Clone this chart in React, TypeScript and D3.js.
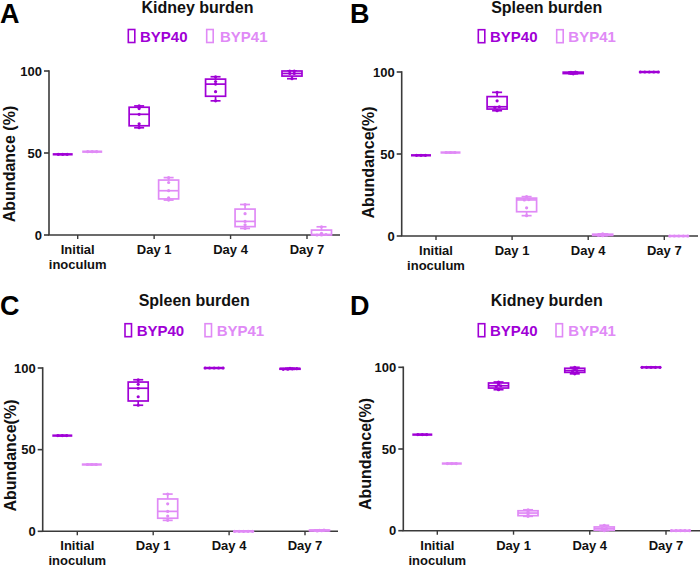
import React from "react";
import * as d3 from "d3";

// ---------- data ----------
const categories = ["Initial inoculum", "Day 1", "Day 4", "Day 7"];
const seriesNames = ["BYP40", "BYP41"];
const yTicks = [0, 50, 100];
const panelLetters = ["A", "B", "C", "D"];
const panelTitles = ["Kidney burden", "Spleen burden", "Spleen burden", "Kidney burden"];
const yAxisTitles = ["Abundance (%)", "Abundance(%)", "Abundance(%)", "Abundance(%)"];

// replicate values per category (Initial inoculum, Day 1, Day 4, Day 7)
const panelA_BYP40 = [
  [49.2, 49.2, 49.2],
  [65.4, 67.8, 73.6, 77.1, 78.7],
  [81.8, 87.4, 92.0, 93.6, 96.5],
  [95.3, 98.5, 98.5, 100, 100],
];
const panelA_BYP41 = [
  [50.8, 50.8, 50.8],
  [21.3, 22.7, 27.0, 32.0, 35.0],
  [4.0, 6.2, 8.3, 13.0, 18.6],
  [0, 0, 0.3, 1.0, 5.0],
];
const panelB_BYP40 = [
  [49.2, 49.2, 49.2],
  [76.4, 78.4, 78.8, 82.4, 87.6],
  [98.9, 99.2, 99.5, 99.8, 100],
  [100, 100, 100, 100, 100],
];
const panelB_BYP41 = [
  [50.9, 50.9, 50.9],
  [12.4, 17.2, 22.0, 22.2, 24.0],
  [0.2, 0.5, 0.7, 0.9, 1.3],
  [0, 0, 0, 0, 0],
];
const panelC_BYP40 = [
  [58.6, 58.6, 58.6],
  [77.2, 82.4, 87.6, 90.0, 92.8],
  [100, 100, 100, 100, 100],
  [99.2, 99.3, 99.5, 99.6, 99.8],
];
const panelC_BYP41 = [
  [40.9, 40.9, 40.9],
  [6.7, 9.3, 12.2, 16.8, 22.8],
  [0, 0, 0, 0, 0],
  [0.2, 0.4, 0.5, 0.6, 0.8],
];
const panelD_BYP40 = [
  [58.8, 58.8, 58.8],
  [86.3, 88.3, 88.7, 89.8, 91.0],
  [96.0, 97.8, 98.0, 98.8, 100],
  [100, 100, 100, 100, 100],
];
const panelD_BYP41 = [
  [41.1, 41.1, 41.1],
  [8.8, 9.6, 10.8, 11.6, 12.8],
  [0, 0.6, 1.3, 1.3, 3.3],
  [0, 0, 0, 0, 0],
];

const panelData = [
  [panelA_BYP40, panelA_BYP41],
  [panelB_BYP40, panelB_BYP41],
  [panelC_BYP40, panelC_BYP41],
  [panelD_BYP40, panelD_BYP41],
];

// ---------- styling / layout ----------
const colors = ["#a000d6", "#e08af6"];
const axisColor = "#3a3a3a";
const FONT = "'Liberation Sans', Arial, Helvetica, sans-serif";

const layouts = [
  { ox: 0, oy: 0, axisX: 49, y100: 71, y0: 235, t0: 77.7, t3: 307, xEnd: 340, titleX: 197.5, titleY: 13, legY: 41.5, letterY: 22.5, yTitleX: 15, yTitleY: 164, leg: [128.3, 140, 206.7, 220], xlabY: 254 },
  { ox: 350, oy: 0, axisX: 51.7, y100: 72, y0: 236, t0: 86, t3: 314.3, xEnd: 348, titleX: 196.7, titleY: 13, legY: 41.7, letterY: 22.5, yTitleX: 23.5, yTitleY: 162.5, leg: [128.3, 140, 206.7, 218.3], xlabY: 255 },
  { ox: 0, oy: 283, axisX: 42.7, y100: 85, y0: 248.3, t0: 77.3, t3: 305, xEnd: 338, titleX: 194.2, titleY: 23, legY: 52.7, letterY: 31.7, yTitleX: 15.5, yTitleY: 172.5, leg: [125, 136.7, 205, 216.7], xlabY: 267 },
  { ox: 350, oy: 283, axisX: 53.3, y100: 84.3, y0: 247.7, t0: 87.3, t3: 316, xEnd: 350, titleX: 196.7, titleY: 23.3, legY: 52.7, letterY: 31.7, yTitleX: 20.5, yTitleY: 171, leg: [128.3, 140, 206, 218.3], xlabY: 267 },
];

// Prism-style quantile: position p*(n+1)
function quant(sorted: number[], p: number) {
  const n = sorted.length;
  const pos = p * (n + 1);
  if (pos <= 1) return sorted[0];
  if (pos >= n) return sorted[n - 1];
  const lo = Math.floor(pos);
  return sorted[lo - 1] + (pos - lo) * (sorted[lo] - sorted[lo - 1]);
}

function BoxGroup({ values, cx, y, color }: { values: number[]; cx: number; y: d3.ScaleLinear<number, number>; color: string }) {
  const s = [...values].sort((a, b) => a - b);
  const mn = s[0], mx = s[s.length - 1];
  const q1 = quant(s, 0.25), med = quant(s, 0.5), q3 = quant(s, 0.75);
  const hw = 10, cap = 5;
  const groups = d3.groups(s, (v) => Math.round(y(v)));
  const pts: { x: number; y: number }[] = [];
  groups.forEach(([, arr]) => {
    arr.forEach((v, i) => pts.push({ x: cx + (i - (arr.length - 1) / 2) * 4.5, y: y(v) }));
  });
  const flat = y(q1) - y(q3) < 1;
  const sw = 1.7;
  return (
    <g stroke={color} fill="none" strokeWidth={sw}>
      <line x1={cx} x2={cx} y1={y(mx)} y2={y(q3)} />
      <line x1={cx} x2={cx} y1={y(q1)} y2={y(mn)} />
      <line x1={cx - cap} x2={cx + cap} y1={y(mx)} y2={y(mx)} />
      <line x1={cx - cap} x2={cx + cap} y1={y(mn)} y2={y(mn)} />
      <rect x={cx - hw} y={y(q3)} width={hw * 2} height={Math.max(0, y(q1) - y(q3))} fill="white" />
      <line x1={cx - hw} x2={cx + hw} y1={y(med)} y2={y(med)} strokeWidth={flat ? 2.4 : sw} />
      {pts.map((p, i) => (
        <circle key={i} cx={p.x} cy={p.y} r={1.6} fill={color} stroke="none" />
      ))}
    </g>
  );
}

function Panel({ idx }: { idx: number }) {
  const L = layouts[idx];
  const data = panelData[idx];
  const y = d3.scaleLinear().domain([0, 100]).range([L.y0, L.y100]);
  const x = d3.scalePoint<string>().domain(categories).range([L.t0, L.t3]);
  const offsets = [-15, 14.5];
  return (
    <g transform={`translate(${L.ox},${L.oy})`} fontFamily={FONT} fontWeight="bold">
      <text x={0} y={L.letterY} fontSize={27} fill="#000">{panelLetters[idx]}</text>
      <text x={L.titleX} y={L.titleY} fontSize={16} textAnchor="middle" fill="#111">{panelTitles[idx]}</text>
      {seriesNames.map((name, si) => (
        <g key={name}>
          <rect x={L.leg[si * 2]} y={L.legY - 12} width={6.5} height={13} fill="white" stroke={colors[si]} strokeWidth={1.6} />
          <text x={L.leg[si * 2 + 1]} y={L.legY} fontSize={15} fill={colors[si]}>{name}</text>
        </g>
      ))}
      <line x1={L.axisX} x2={L.axisX} y1={y(100) - 0.8} y2={y(0)} stroke={axisColor} strokeWidth={1.6} />
      {yTicks.map((t) => (
        <g key={t}>
          <line x1={L.axisX - 5} x2={L.axisX} y1={y(t)} y2={y(t)} stroke={axisColor} strokeWidth={1.6} />
          <text x={L.axisX - 7} y={y(t)} dy="0.35em" fontSize={13} textAnchor="end" fill="#111">{t}</text>
        </g>
      ))}
      <text transform={`translate(${L.yTitleX},${L.yTitleY}) rotate(-90)`} fontSize={16} textAnchor="middle" fill="#111">{yAxisTitles[idx]}</text>
      <line x1={L.axisX - 0.8} x2={L.xEnd} y1={y(0)} y2={y(0)} stroke={axisColor} strokeWidth={1.6} />
      {categories.map((c) => {
        const parts = c === "Initial inoculum" ? ["Initial", "inoculum"] : [c];
        return (
          <g key={c}>
            <line x1={x(c)} x2={x(c)} y1={y(0)} y2={y(0) + 4} stroke={axisColor} strokeWidth={1.4} />
            {parts.map((p, i) => (
              <text key={p} x={x(c)} y={L.xlabY + i * 14.5} fontSize={13} textAnchor="middle" fill="#111">{p}</text>
            ))}
          </g>
        );
      })}
      {data.map((series, si) =>
        series.map((vals, ci) => (
          <BoxGroup key={`${si}-${ci}`} values={vals} cx={(x(categories[ci]) as number) + offsets[si]} y={y} color={colors[si]} />
        ))
      )}
    </g>
  );
}

export default function App() {
  return (
    <svg width={700} height={566} style={{ position: "absolute", left: 0, top: 0, background: "white" }}>
      <rect width={700} height={566} fill="white" />
      {[0, 1, 2, 3].map((i) => (
        <Panel key={i} idx={i} />
      ))}
    </svg>
  );
}
